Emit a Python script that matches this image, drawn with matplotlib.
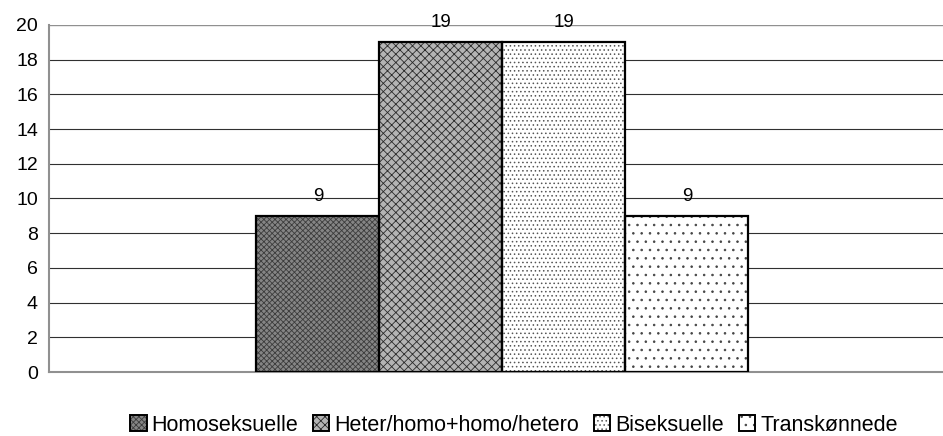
import matplotlib.pyplot as plt
from matplotlib.patches import Patch

plt.rcParams['font.family'] = ['Liberation Sans', 'DejaVu Sans']
plt.rcParams['hatch.linewidth'] = 0.6

# data
labels = ['Homoseksuelle', 'Heter/homo+homo/hetero', 'Biseksuelle', 'Transkønnede']
values = [9, 19, 19, 9]
yticks = [0, 2, 4, 6, 8, 10, 12, 14, 16, 18, 20]

# look of each bar: face, hatch, hatch colour
faces = ['#858585', '#b4b4b4', 'white', 'white']
hatches = ['xxxxxx', 'xxxx', '....', '..']
hatchcols = ['#3c3c3c', '#2a2a2a', '#555555', '#444444']

fig = plt.figure(figsize=(9.43, 4.36), dpi=100)
ax = fig.add_axes([49/943, 1 - 372/436, 1 - 49/943, (372 - 25)/436])

width = 0.2
offsets = [-1.5, -0.5, 0.5, 1.5]
handles = []
for i in range(len(values)):
    x = offsets[i] * width
    # hatch layer, then black outline on top
    ax.bar(x, values[i], width, color=faces[i], hatch=hatches[i],
           edgecolor=hatchcols[i], linewidth=0, zorder=2)
    ax.bar(x, values[i], width, fill=False, edgecolor='black', linewidth=1.6, zorder=3)
    ax.annotate(str(values[i]), (x, values[i]), xytext=(0, 8), textcoords='offset points',
                ha='center', va='bottom', fontsize=13.5, annotation_clip=False)
    h1 = Patch(facecolor=faces[i], hatch=hatches[i], edgecolor=hatchcols[i], linewidth=0)
    h2 = Patch(fill=False, edgecolor='black', linewidth=1.4)
    handles.append((h1, h2))

ax.set_xlim(-0.7374, 0.7163)
ax.set_ylim(0, 20)
ax.set_yticks(yticks)
ax.set_xticks([])
ax.tick_params(axis='y', length=0, labelsize=14, pad=8)

for y in yticks[1:]:
    col = '#909090' if y == 20 else '#303030'
    ax.axhline(y, color=col, linewidth=1.0 if y == 20 else 0.8, zorder=1)

ax.spines['top'].set_visible(False)
ax.spines['right'].set_visible(False)
ax.spines['left'].set_color('#909090')
ax.spines['bottom'].set_color('#909090')
ax.spines['left'].set_linewidth(1.5)
ax.spines['bottom'].set_linewidth(1.5)

fig.legend(handles, labels, loc='center', bbox_to_anchor=(514/943, 1 - 425/436),
           ncol=4, frameon=False, fontsize=15.5, handlelength=0.75, handleheight=0.7,
           handletextpad=0.23, columnspacing=0.7)

plt.savefig('out.png', dpi=100)
